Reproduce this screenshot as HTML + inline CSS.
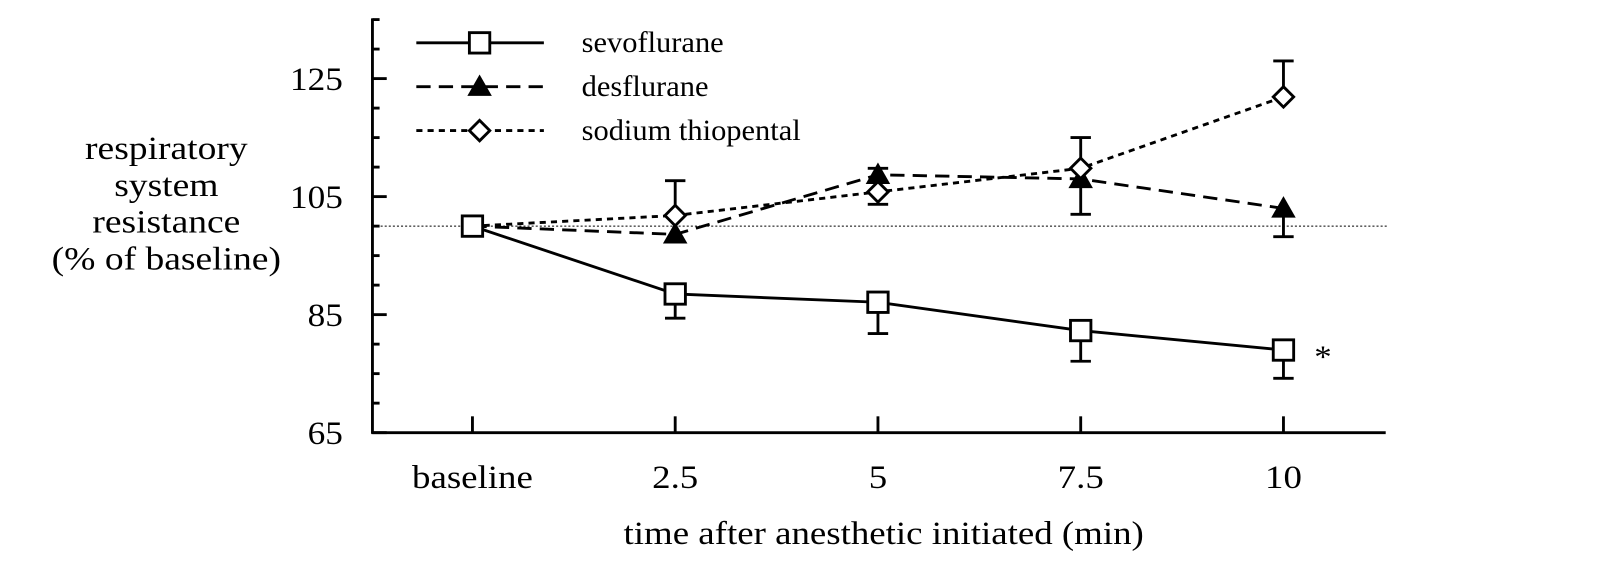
<!DOCTYPE html>
<html><head><meta charset="utf-8"><style>
body{margin:0;background:#fff}
svg{display:block;font-family:"Liberation Serif",serif}
</style></head><body>
<svg id="chart" width="1600" height="580" viewBox="0 0 1600 580">
<g transform="scale(1.0204)">
<g id="axes"></g>
<g id="series"></g>
<g id="legend"></g>
</g>
</svg>
<script>
const categories=["baseline","2.5","5","7.5","10"];
const sevoValues=[100,88.5,87.1,82.3,79.0];
const sevoErrLow=[100,84.4,81.8,77.1,74.2];
const desValues=[100,98.6,108.7,108.0,103.0];
const desErrLow=[null,null,null,102.0,98.2];
const desErrHigh=[null,null,109.8,null,null];
const thioValues=[100,101.8,105.8,109.8,121.9];
const thioErrHigh=[null,107.7,null,115.0,128.0];
const thioErrLow=[null,null,103.7,null,null];
const yTicks=[65,85,105,125];
const NS="http://www.w3.org/2000/svg";
const xs=i=>463+i*198.7;
const ys=v=>424-(v-65)*5.783;
function mk(tag,attrs,parent){const e=document.createElementNS(NS,tag);for(const k in attrs)e.setAttribute(k,attrs[k]);parent.appendChild(e);return e;}
function txt(x,y,sx,size,anchor,t,parent){const e=mk('text',{x:0,y:0,'text-anchor':anchor,'font-size':size,transform:`translate(${x},${y}) scale(${sx},1)`},parent);e.textContent=t;return e;}
const axes=document.getElementById('axes'),series=document.getElementById('series'),legend=document.getElementById('legend');
let e;
e=mk('line',{x1:365,y1:18,x2:365,y2:425,stroke:'#000','stroke-width':2.8},axes);


e=mk('line',{x1:364,y1:424,x2:1358,y2:424,stroke:'#000','stroke-width':2.8},axes);


for(let v=65;v<=135;v+=5){const maj=yTicks.includes(v);
e=mk('line',{x1:365,y1:ys(v),x2:maj?379:372,y2:ys(v),stroke:'#000','stroke-width':2.8},axes);

}
yTicks.forEach(v=>{e=txt(336,ys(v)+11,1.08,32,'end',v,axes);

});
categories.forEach((c,i)=>{
e=mk('line',{x1:xs(i),y1:424,x2:xs(i),y2:408,stroke:'#000','stroke-width':2.8},axes);


e=txt(xs(i),478,1.13,32,'middle',c,axes);

});
e=txt(866,533,1.13,32,'middle',"time after anesthetic initiated (min)",axes);


["respiratory","system","resistance","(% of baseline)"].forEach((t,i)=>{
e=txt(163,156+i*36,1.15,32,'middle',t,axes);

});
e=mk('line',{x1:365,y1:ys(100),x2:1360,y2:ys(100),stroke:'#000','stroke-width':1,'stroke-dasharray':'2,2'},axes);


function errbar(i,from,to){
e=mk('line',{x1:xs(i),y1:ys(from),x2:xs(i),y2:ys(to),stroke:'#000','stroke-width':2.8},series);


e=mk('line',{x1:xs(i)-10,y1:ys(to),x2:xs(i)+10,y2:ys(to),stroke:'#000','stroke-width':2.8},series);

}
function line(vals,dash,name){
e=mk('polyline',{points:vals.map((v,i)=>xs(i)+','+ys(v)).join(' '),fill:'none',stroke:'#000','stroke-width':2.8,'stroke-dasharray':dash},series);

}
function square(x,y,p){e=mk('rect',{x:x-10,y:y-10,width:20,height:20,fill:'#fff',stroke:'#000','stroke-width':2.8},p);

}
function tri(x,y,p){e=mk('polygon',{points:`${x},${y-12} ${x-12},${y+9} ${x+12},${y+9}`,fill:'#000'},p);

}
function dia(x,y,p){e=mk('polygon',{points:`${x},${y-10} ${x+10},${y} ${x},${y+10} ${x-10},${y}`,fill:'#fff',stroke:'#000','stroke-width':2.8},p);

}
sevoValues.forEach((v,i)=>{if(i>0)errbar(i,v,sevoErrLow[i]);});
desValues.forEach((v,i)=>{if(desErrLow[i]!=null)errbar(i,v,desErrLow[i]);if(desErrHigh[i]!=null)errbar(i,v,desErrHigh[i]);});
thioValues.forEach((v,i)=>{if(thioErrHigh[i]!=null)errbar(i,v,thioErrHigh[i]);if(thioErrLow[i]!=null)errbar(i,v,thioErrLow[i]);});
line(desValues,'14,8','desflurane-line');
line(thioValues,'6,5','thiopental-line');
line(sevoValues,'none','sevoflurane-line');
desValues.forEach((v,i)=>{if(i>0)tri(xs(i),ys(v),series);});
thioValues.forEach((v,i)=>{if(i>0)dia(xs(i),ys(v),series);});
sevoValues.forEach((v,i)=>square(xs(i),ys(v),series));
e=txt(1288,ys(sevoValues[4])+17,1.1,31,'start',"*",series);


const leg=[["sevoflurane","none",square,42],["desflurane","14,8",tri,85],["sodium thiopental","6,5",dia,128]];
leg.forEach(([t,d,f,y])=>{
e=mk('line',{x1:408,y1:y,x2:533,y2:y,stroke:'#000','stroke-width':2.8,'stroke-dasharray':d},legend);


f(470,y,legend);
e=txt(570,y+9,1.03,29,'start',t,legend);

});
</script>
</body></html>
